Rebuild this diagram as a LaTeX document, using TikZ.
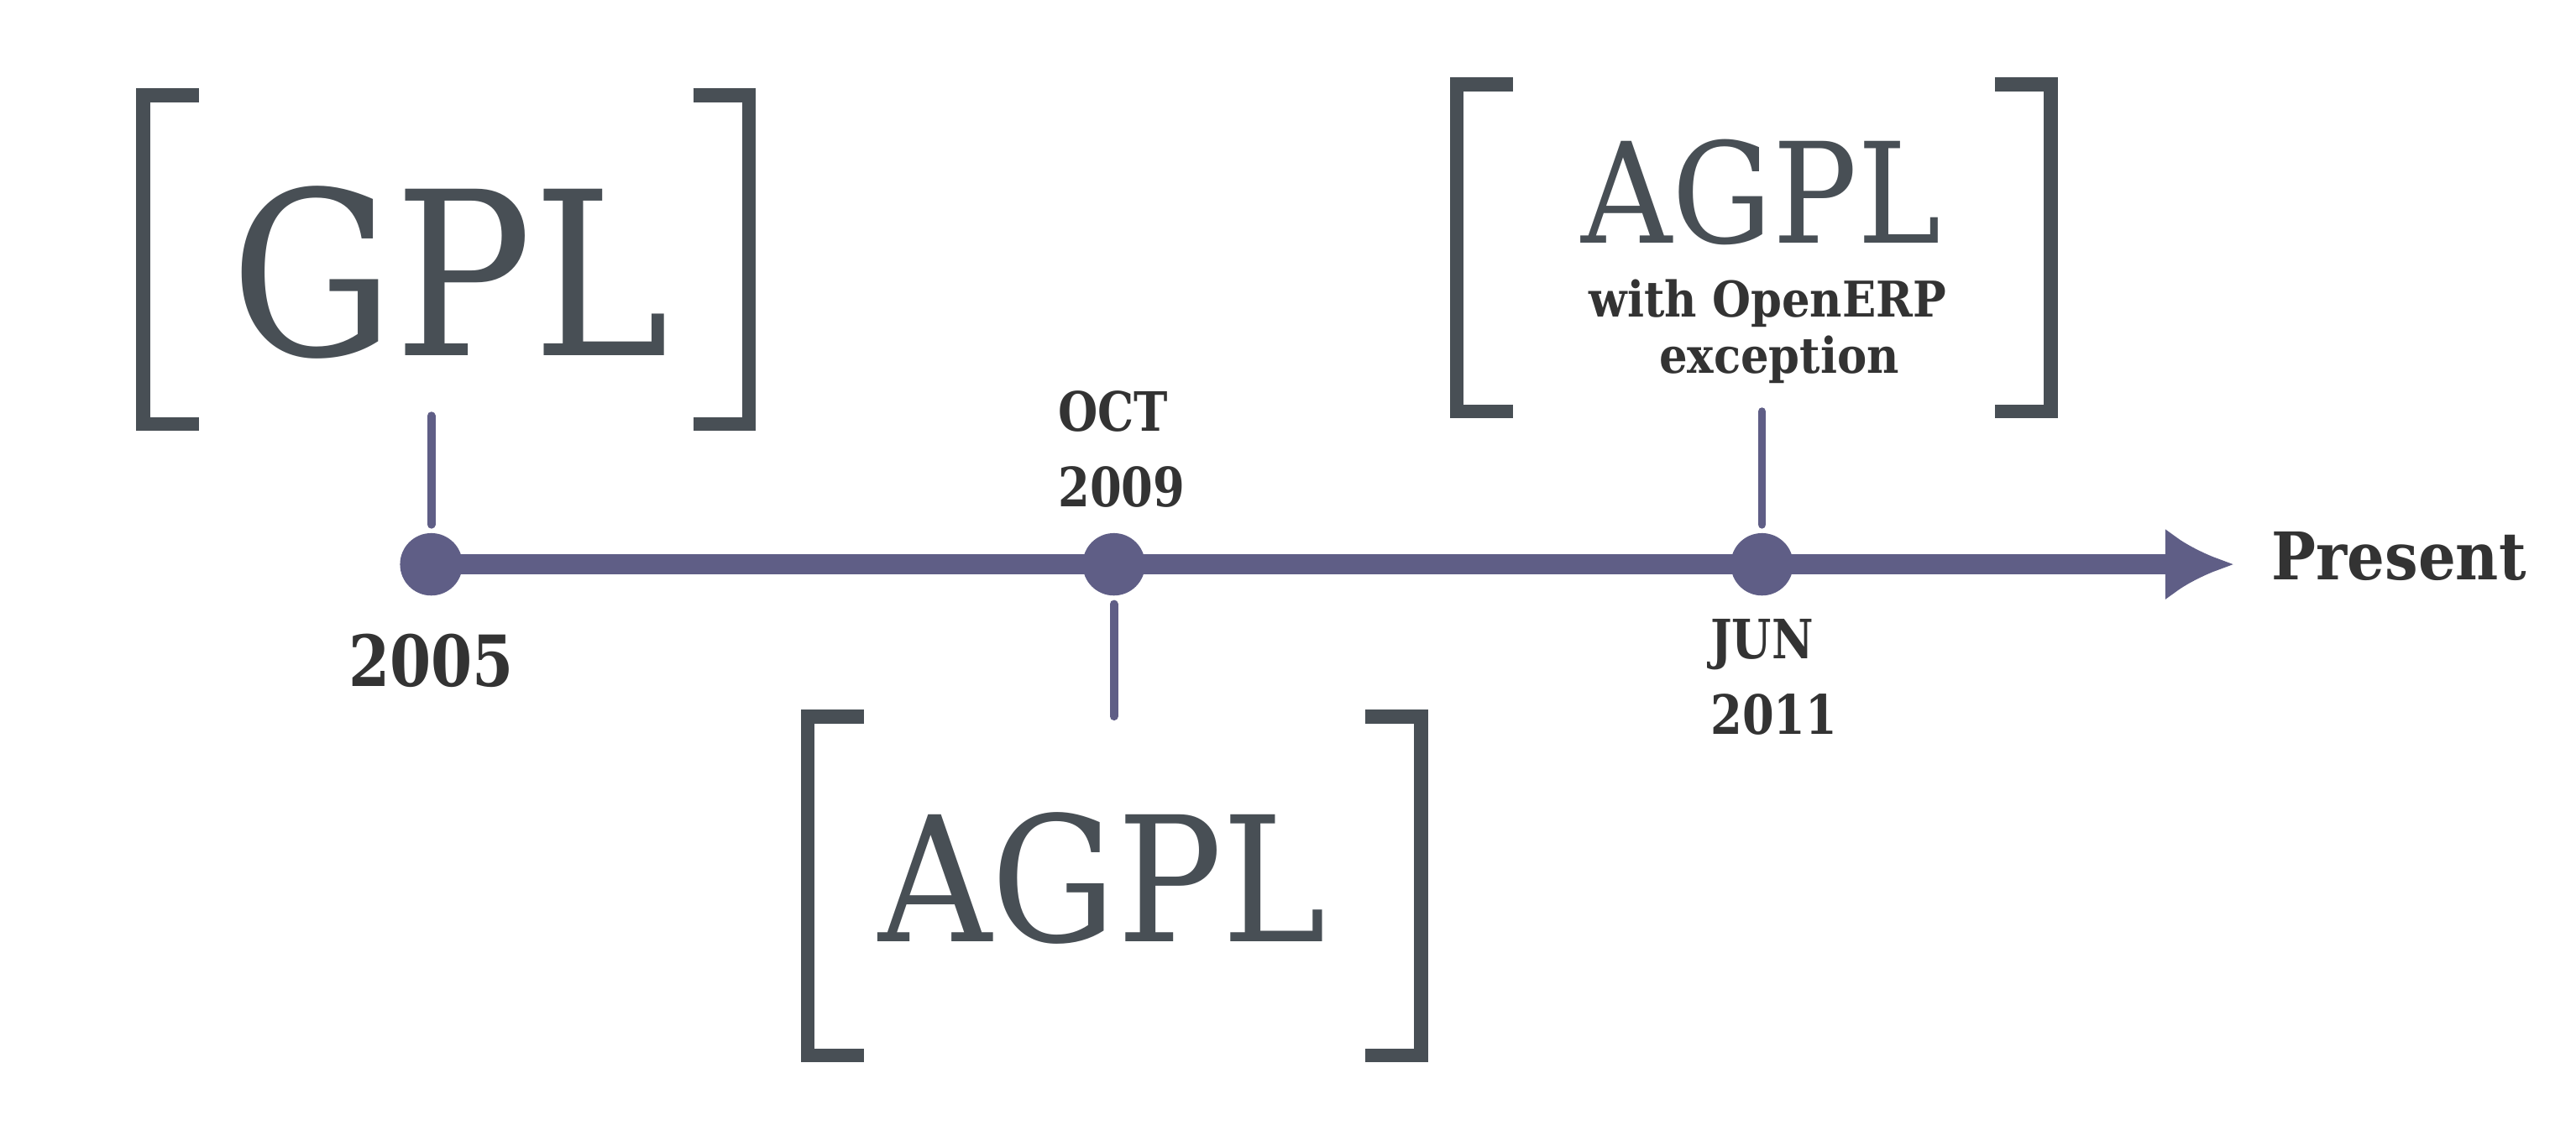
\documentclass[tikz,border=0pt]{standalone}
\usepackage{fontspec}
\setmainfont{DejaVu Serif}
\newfontfamily\bigserif[FakeStretch=0.9]{DejaVu Serif}
\newfontfamily\labelserif[FakeStretch=0.9]{DejaVu Serif}
\newfontfamily\dateserif[FakeStretch=0.84]{DejaVu Serif}
\usetikzlibrary{arrows.meta}
\usetikzlibrary{positioning}
\tikzset{>=Latex}
\usepackage{xcolor}
\definecolor{tl}{HTML}{5F5E86}
\definecolor{br}{HTML}{484F55}
\definecolor{lb}{HTML}{333333}
\tikzstyle{time line}=[tl,line width=12pt]
\tikzstyle{event}=[circle,fill=tl,minimum size=38pt,inner sep=0pt]
\tikzstyle{tick}=[tl,line width=5pt,line cap=round]
\tikzstyle{bracket}=[br,line width=8.5pt]
\tikzstyle{licence}=[br,inner sep=0pt,anchor=base]
\tikzstyle{date}=[lb,inner sep=0pt,align=left,anchor=north west,
                  font=\dateserif\bfseries\fontsize{33}{46}\selectfont]
\tikzset{licence box/.style 2 args={minimum width=#1pt,minimum height=#2pt,inner sep=0pt}}
\newcommand{\brackets}[1]
{ % #1 = name of the box
  \draw[bracket] ([xshift=34pt]#1.north west) -- (#1.north west)
                 -- (#1.south west) -- ([xshift=34pt]#1.south west);
  \draw[bracket] ([xshift=-34pt]#1.north east) -- (#1.north east)
                 -- (#1.south east) -- ([xshift=-34pt]#1.south east);
}

\begin{document}
\begin{tikzpicture}[x=1pt,y=-1pt]
  \useasboundingbox (0,0) rectangle (1568,688);
  % events on the line
  \node[event] (d2005) at (262.5,343.5) {};
  \node[event] (d2009) at (678,343.5) {};
  \node[event] (d2011) at (1072.5,343.5) {};
  \coordinate (now) at (1360,343.5);
  \draw[time line,->,>={Latex[length=42pt,width=44pt]}] (d2005.center) -- (now);
  \node[lb,inner sep=0pt,anchor=base west,font=\labelserif\bfseries\fontsize{40}{42}\selectfont]
       (present) at (1382.5,352.7) {Present};
  % dates
  \node[lb,inner sep=0pt,anchor=base,font=\dateserif\bfseries\fontsize{43}{46}\selectfont]
       (y2005) at (262.4,418) {2005};
  \node[date] (y2009) at (644,237.7) {OCT\\2009};
  \node[date] (y2011) at (1041,376.7) {JUN\\2011};
  % licences
  \node[licence box={368.5}{199.75}] (gplbox) at (271.5,158) {};
  \node[licence,font=\bigserif\fontsize{139}{140}\selectfont] (gpl) at (273.8,216.4) {GPL};
  \brackets{gplbox}
  \node[licence box={372.9}{206}] (agplbox) at (678.3,539.25) {};
  \node[licence,font=\bigserif\fontsize{106}{110}\selectfont] (agpl) at (671,573.3) {AGPL};
  \brackets{agplbox}
  \node[licence box={361}{198.6}] (erpbox) at (1067.5,151) {};
  \node[licence,font=\bigserif\fontsize{85}{90}\selectfont] (erp) at (1072,148) {AGPL};
  \node[lb,inner sep=0pt,align=center,anchor=north,
        font=\labelserif\bfseries\fontsize{30}{34}\selectfont]
       (exc) at (1076,170) {with OpenERP\\\hspace*{14pt}exception};
  \brackets{erpbox}
  % ticks
  \draw[tick,shorten <=5pt,shorten >=-5pt] (d2005) -- (d2005 |- gplbox.south);
  \draw[tick,shorten <=5pt] (d2009) -- (d2009 |- agplbox.north);
  \draw[tick,shorten <=5pt] (d2011) -- (d2011 |- erpbox.south);
\end{tikzpicture}
\end{document}
